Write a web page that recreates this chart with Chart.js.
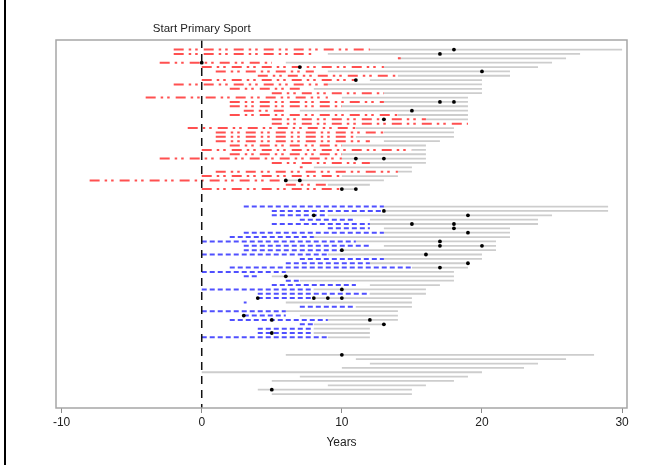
<!DOCTYPE html>
<html>
<head>
<meta charset="utf-8">
<title>Start Primary Sport</title>
<script src="https://cdn.jsdelivr.net/npm/chart.js@4.4.0/dist/chart.umd.min.js"></script>
<style>
	html, body { margin: 0; padding: 0; background: #fff; }
	canvas { display: block; }
</style>
</head>
<body>
<canvas id="chart" width="665" height="465"></canvas>
<script>
'use strict';

// x axis ticks (years)
const xTicks = [ -10, 0, 10, 20, 30 ];

// red group (dash-dot), one value per row, in years
const redFrom = [ -2, -2, 14, -3, 0, 1, 4, 0, -2, 2, 5, -4, 2, 2, 3, 2, 5, 5, -1, 1, 1, 1, 2, 0, 2, -3, 5, 7, 1, 0, -8, 6, 0 ];
const redTo = [ 12, 8, 14.2, 5, 13, 8, 14, 11, 9, 7, 13, 9, 13, 10, 6, 14, 16, 19, 11, 13, 11, 12, 10, 15, 10, 10, 12, 7.2, 14, 10, 6, 9, 10 ];
const redGrayFrom = [ 12, 9, 14, 6, 13, 9, 14, 12, 9, 8, 13, 10, 13, 10, 7, 14, 16, 19, 11, 13, 11, 13, 10, 15, 10, 10, 12, 8, 14, 10, 6, 9, 10 ];
const redGrayTo = [ 30, 27, 26, 25, 24, 22, 22, 20, 20, 20, 20, 19, 19, 19, 19, 19, 19, 19, 18, 18, 18, 17, 16, 16, 16, 16, 16, 15, 15, 14, 13, 12, 11 ];
const redDots = [ [ 18 ], [ 17 ], [], [ 0 ], [ 7 ], [ 20 ], [], [ 11 ], [], [], [], [], [ 17, 18 ], [], [ 15 ], [], [ 13 ], [], [], [], [], [], [], [], [], [ 11, 13 ], [], [], [], [], [ 6, 7 ], [], [ 10, 11 ] ];

// blue group (dashed)
const blueFrom = [ 3, 5, 5, 7, 5, 9, 3, 2, 0, 3, 3, 0, 7, 6, 2, 0, 3, 6, 5, 0, 4, 4, 3, 7, 0, 3, 2, 7, 4, 4, 0 ];
const blueTo = [ 13, 13, 9, 11, 12, 12, 13, 8, 11, 12, 10, 9, 13, 12, 15, 6, 4, 7, 11, 8, 12, 8, 3.2, 11, 6, 6, 9, 8, 8, 8, 9 ];
const blueGrayFrom = [ 13, 13, 9, 12, 12, 13, 13, 8, 11, 13, 10, 9, 13, 12, 15, 6, 5, 7, 12, 8, 12, 8, 6, 11, 6, 7, 9, 8, 8, 8, 9 ];
const blueGrayTo = [ 29, 29, 25, 24, 24, 22, 22, 22, 21, 21, 21, 20, 20, 19, 19, 18, 18, 18, 17, 16, 16, 15, 15, 15, 14, 14, 14, 13, 12, 12, 12 ];
const blueDots = [ [], [ 13 ], [ 8, 19 ], [], [ 15, 18 ], [ 18 ], [ 19 ], [], [ 17 ], [ 17, 20 ], [ 10 ], [ 16 ], [], [ 19 ], [ 17 ], [], [ 6 ], [], [], [ 10 ], [], [ 4, 8, 9, 10 ], [], [], [], [ 3 ], [ 5, 12 ], [ 13 ], [], [ 5 ], [] ];

// gray only group
const grayFrom = [ 6, 11, 12, 10, 0, 7, 5, 9, 4, 5 ];
const grayTo = [ 28, 26, 24, 23, 20, 19, 18, 16, 15, 15 ];
const grayDots = [ [ 10 ], [], [], [], [], [], [], [], [ 5 ], [] ];

// first row index of each group (3 empty rows between groups)
const redRow0 = 0;
const blueRow0 = 36;
const grayRow0 = 70;

window.addEventListener( 'DOMContentLoaded', function () {

	const segments = ( from, to, row0 ) => {
		const data = [];
		from.forEach( ( v, i ) => {
			data.push( { x: v, y: row0 + i }, { x: to[ i ], y: row0 + i }, { x: null, y: null } );
		} );
		return data;
	};

	const dots = ( list, row0 ) => {
		const data = [];
		list.forEach( ( values, i ) => {
			values.forEach( ( v ) => data.push( { x: v, y: row0 + i } ) );
		} );
		return data;
	};

	const line = ( data, color, dash, width, order ) => ( {
		data: data,
		showLine: true,
		borderColor: color,
		borderWidth: width,
		borderDash: dash,
		borderCapStyle: 'butt',
		pointRadius: 0,
		fill: false,
		order: order,
	} );

	const frame = {
		id: 'frame',
		afterDraw: function ( chart ) {
			const { ctx, chartArea } = chart;
			ctx.save();
			ctx.strokeStyle = '#a6a6a6';
			ctx.lineWidth = 1.5;
			ctx.strokeRect( chartArea.left, chartArea.top, chartArea.right - chartArea.left, chartArea.bottom - chartArea.top );

			const x0 = chart.scales.x.getPixelForValue( 0 );
			ctx.fillStyle = '#222';
			ctx.font = '11.5px "Liberation Sans", Arial, sans-serif';
			ctx.textAlign = 'center';
			ctx.textBaseline = 'middle';
			ctx.fillText( 'Start Primary Sport', x0, chartArea.top - 11 );

			ctx.fillStyle = '#000';
			ctx.fillRect( 4, 0, 2, chart.height );
			ctx.restore();
		},
	};

	const yMin = -2.2;
	const yMax = 82.2;

	new Chart( document.getElementById( 'chart' ), {
		type: 'scatter',
		data: {
			datasets: [
				{
					data: dots( redDots, redRow0 ).concat( dots( blueDots, blueRow0 ), dots( grayDots, grayRow0 ) ),
					pointRadius: 1.9,
					pointBackgroundColor: '#000',
					pointBorderWidth: 0,
					showLine: false,
					order: 0,
				},
				line( [ { x: 0, y: yMin }, { x: 0, y: yMax } ], '#111', [ 8, 6 ], 1.5, 1 ),
				line( segments( redFrom, redTo, redRow0 ), '#ff5050', [ 10, 5, 2.5, 4, 2.5, 6 ], 2, 2 ),
				line( segments( blueFrom, blueTo, blueRow0 ), '#5050ff', [ 5, 3 ], 2, 2 ),
				line( segments( redGrayFrom, redGrayTo, redRow0 )
					.concat( segments( blueGrayFrom, blueGrayTo, blueRow0 ), segments( grayFrom, grayTo, grayRow0 ) ), '#cdcdcd', [], 1.8, 3 ),
			],
		},
		options: {
			responsive: false,
			animation: false,
			events: [],
			layout: { padding: { left: 56, right: 38, top: 40, bottom: 0 } },
			plugins: {
				legend: { display: false },
				tooltip: { enabled: false },
			},
			scales: {
				x: {
					type: 'linear',
					min: -10.4,
					max: 30.35,
					afterBuildTicks: ( scale ) => {
						scale.ticks = xTicks.map( ( v ) => ( { value: v } ) );
					},
					afterFit: ( scale ) => {
						scale.height = 57;
					},
					border: { display: false },
					grid: { drawOnChartArea: false, drawTicks: true, tickLength: 5, color: '#8a8a8a' },
					ticks: {
						color: '#222',
						padding: 2,
						font: { family: '"Liberation Sans", Arial, sans-serif', size: 12 },
					},
					title: {
						display: true,
						text: 'Years',
						color: '#222',
						padding: { top: 0, bottom: 15 },
						font: { family: '"Liberation Sans", Arial, sans-serif', size: 12 },
					},
				},
				y: {
					type: 'linear',
					display: false,
					reverse: true,
					min: yMin,
					max: yMax,
				},
			},
		},
		plugins: [ frame ],
	} );

} );
</script>
</body>
</html>
